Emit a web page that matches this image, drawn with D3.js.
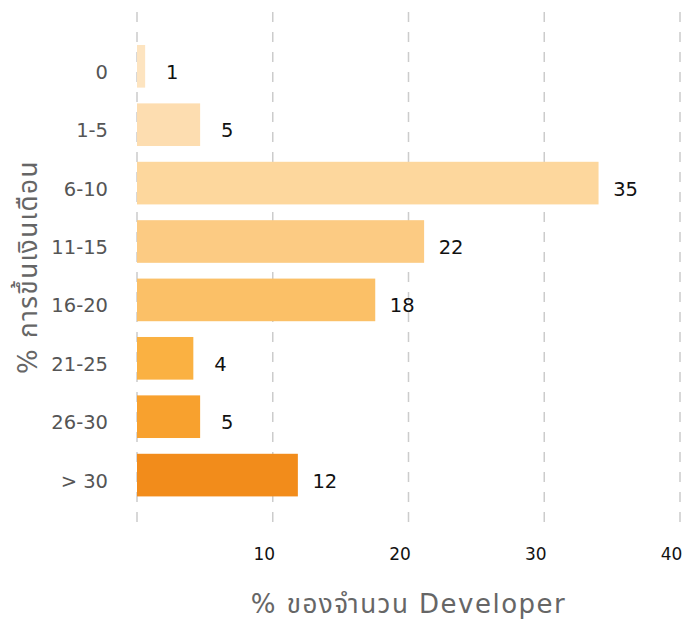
<!DOCTYPE html>
<html>
<head>
<meta charset="utf-8">
<script src="https://cdn.jsdelivr.net/npm/d3@7/dist/d3.min.js"></script>
<style>
  html, body { margin: 0; padding: 0; background: #fff; }
  svg { display: block; font-family: "DejaVu Sans", "Noto Sans Thai", "Noto Sans", sans-serif; }
</style>
</head>
<body>
<svg id="chart" width="687" height="623"></svg>
<script>
const categories = ["0", "1-5", "6-10", "11-15", "16-20", "21-25", "26-30", "> 30"];
const barValues = [0.6, 4.65, 34.0, 21.15, 17.55, 4.15, 4.65, 11.85];
const labelValues = [1, 5, 35, 22, 18, 4, 5, 12];
const barColors = ["#FDE4C0", "#FDDDB0", "#FDD79D", "#FCCB83", "#FBC067", "#FAB142", "#F8A12E", "#F28C1B"];
const xTicks = [0, 10, 20, 30, 40];
const xTitle = "% ของจำนวน Developer";
const yTitle = "% การขึ้นเงินเดือน";

const svg = d3.select("#chart");
const left = 137, right = 680, gridTop = 12, gridBottom = 522;

const x = d3.scaleLinear().domain([0, 40]).range([left, right]);
const y = d3.scaleBand().domain(categories).range([37.1, 504.3]).paddingInner(0.27).paddingOuter(0.135);

// gridlines
svg.append("g").selectAll("line").data(xTicks).join("line")
  .attr("x1", d => x(d)).attr("x2", d => x(d))
  .attr("y1", gridBottom).attr("y2", gridTop)
  .attr("stroke", "#cccccc").attr("stroke-width", 1.5)
  .attr("stroke-dasharray", "10,10");

// bars
svg.append("g").selectAll("rect").data(categories).join("rect")
  .attr("x", x(0))
  .attr("y", d => y(d))
  .attr("width", (d, i) => x(barValues[i]) - x(0))
  .attr("height", y.bandwidth())
  .attr("fill", (d, i) => barColors[i]);

// value labels
svg.append("g").selectAll("text").data(categories).join("text")
  .attr("x", (d, i) => x(barValues[i]) + 27)
  .attr("y", d => y(d) + y.bandwidth() / 2 + 12.5)
  .attr("text-anchor", "middle")
  .attr("font-size", 19.5)
  .attr("fill", "#111")
  .text((d, i) => labelValues[i]);

// category labels
svg.append("g").selectAll("text").data(categories).join("text")
  .attr("x", 108)
  .attr("y", d => y(d) + y.bandwidth() / 2 + 12.5)
  .attr("text-anchor", "end")
  .attr("font-size", 19.5)
  .attr("fill", "#555")
  .text(d => d);

// x tick labels
svg.append("g").selectAll("text").data(xTicks.filter(d => d > 0)).join("text")
  .attr("x", d => x(d) - 8.5)
  .attr("y", 560)
  .attr("text-anchor", "middle")
  .attr("font-size", 17)
  .attr("fill", "#111")
  .text(d => d);

// axis titles
svg.append("text")
  .attr("x", (left + right) / 2)
  .attr("y", 613)
  .attr("text-anchor", "middle")
  .attr("font-size", 26)
  .attr("letter-spacing", 1.5)
  .attr("fill", "#666")
  .text(xTitle);

svg.append("text")
  .attr("transform", `translate(37,${(gridTop + gridBottom) / 2}) rotate(-90)`)
  .attr("text-anchor", "middle")
  .attr("font-size", 26)
  .attr("letter-spacing", 1.5)
  .attr("fill", "#666")
  .text(yTitle);
</script>
</body>
</html>
